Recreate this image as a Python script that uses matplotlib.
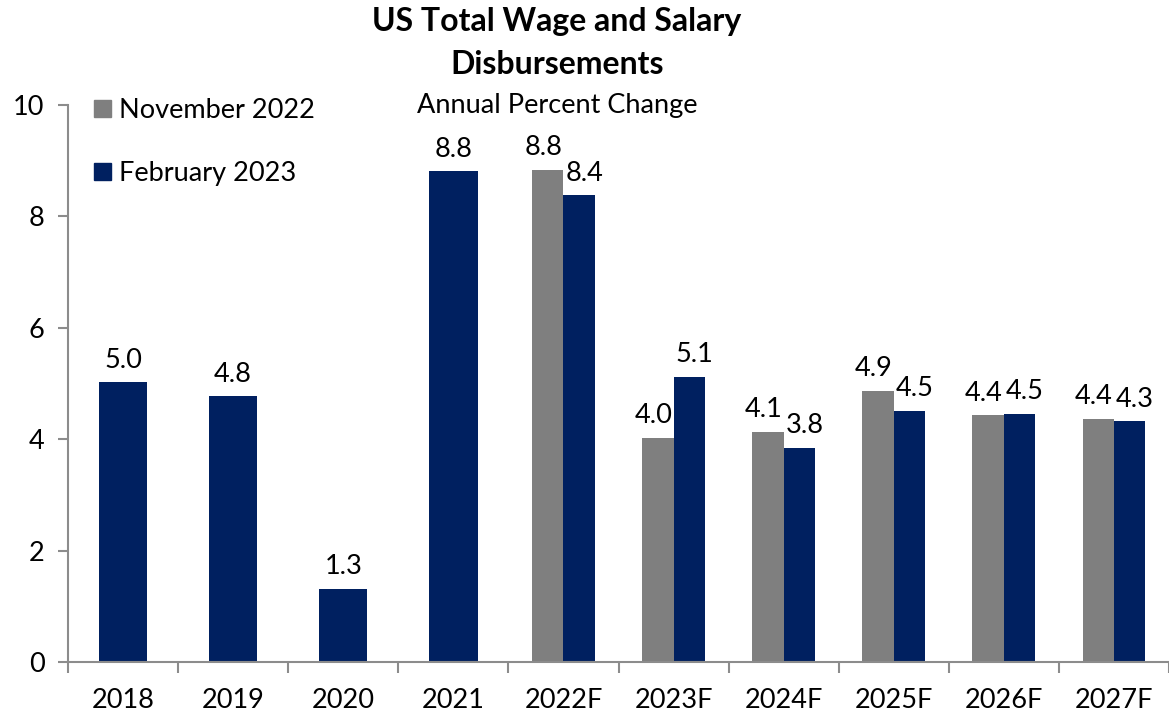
import numpy as np
import matplotlib.pyplot as plt
from matplotlib.patches import Patch

# dados (variacao percentual anual)
anos = ["2018", "2019", "2020", "2021", "2022F", "2023F", "2024F", "2025F", "2026F", "2027F"]
nov_2022 = [np.nan, np.nan, np.nan, np.nan, 8.83, 4.02, 4.13, 4.87, 4.43, 4.36]
fev_2023 = [5.02, 4.77, 1.31, 8.81, 8.38, 5.12, 3.84, 4.51, 4.46, 4.32]

cinza = "#7f7f7f"
azul = "#002060"
eixo = "#8c8c8c"
fs = 19.5

plt.rcParams['font.family'] = ['Lato', 'DejaVu Sans']

fig = plt.figure(figsize=(11.69, 7.15), dpi=100)
ax = fig.add_axes([68 / 1169, 1 - 662 / 715, 1 - 68 / 1169, (662 - 105) / 715])

x = np.arange(len(anos))
w = 0.285

for i in range(len(anos)):
    if np.isnan(nov_2022[i]):
        # so a serie de fevereiro, barra centrada
        ax.bar(x[i], fev_2023[i], 0.44, color=azul)
        ax.annotate(f"{fev_2023[i]:.1f}", (x[i], fev_2023[i]), xytext=(0, 7),
                    textcoords="offset points", ha="center", va="bottom", fontsize=fs)
    else:
        ax.bar(x[i] - w / 2, nov_2022[i], w, color=cinza)
        ax.bar(x[i] + w / 2, fev_2023[i], w, color=azul)
        ax.annotate(f"{nov_2022[i]:.1f}", (x[i] - w / 2, nov_2022[i]), xytext=(-3, 7),
                    textcoords="offset points", ha="center", va="bottom", fontsize=fs)
        ax.annotate(f"{fev_2023[i]:.1f}", (x[i] + w / 2, fev_2023[i]), xytext=(4, 7),
                    textcoords="offset points", ha="center", va="bottom", fontsize=fs)

ax.set_xlim(-0.5, len(anos) - 0.5)
ax.set_ylim(0, 10)
ax.set_yticks(range(0, 11, 2))
ax.set_xticks(x)
ax.set_xticklabels(anos)
ax.set_xticks(np.arange(-0.5, len(anos)), minor=True)
ax.tick_params(axis="x", which="major", length=0, pad=19, labelsize=fs)
ax.tick_params(axis="x", which="minor", length=8, width=1.5, color=eixo, direction="out")
ax.tick_params(axis="y", length=7, width=1.5, color=eixo, pad=10, labelsize=fs)

for lado in ["top", "right"]:
    ax.spines[lado].set_visible(False)
for lado in ["left", "bottom"]:
    ax.spines[lado].set_color(eixo)
    ax.spines[lado].set_linewidth(1.5)

# titulo e subtitulo
fig.text(557 / 1169, 1 - 22 / 715, "US Total Wage and Salary", ha="center", va="center",
         fontsize=23, fontweight="bold")
fig.text(557 / 1169, 1 - 64 / 715, "Disbursements", ha="center", va="center",
         fontsize=23, fontweight="bold")
fig.text(557 / 1169, 1 - 106 / 715, "Annual Percent Change", ha="center", va="center",
         fontsize=fs)

# legenda
handles = [Patch(color=cinza, label="November 2022"), Patch(color=azul, label="February 2023")]
ax.legend(handles=handles, loc="upper left", bbox_to_anchor=(70 / 1169, 1 - 74 / 715),
          bbox_transform=fig.transFigure, frameon=False, fontsize=fs,
          handlelength=0.6, handleheight=0.6, handletextpad=0.3, labelspacing=1.4)

plt.savefig("out.png", dpi=100)
